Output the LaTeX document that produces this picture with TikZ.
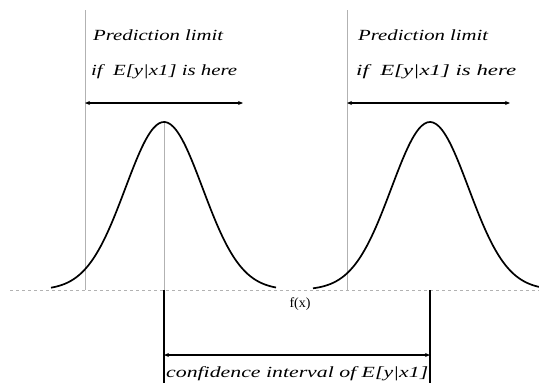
\documentclass[tikz,border=0pt]{standalone}
\usepackage{fontspec}
\setmainfont{Liberation Serif}
\usetikzlibrary{arrows.meta}
\begin{document}
\begin{tikzpicture}[x=1pt,y=-1pt,
  curve/.style={line width=1.7pt, black},
  guide/.style={line width=0.8pt, gray!60},
  axisline/.style={line width=0.8pt, gray!60, dash pattern=on 3pt off 3pt},
  bar/.style={line width=1.5pt, black},
  dim/.style={line width=1.5pt, black, {Stealth[length=5pt,width=4pt]}-{Stealth[length=5pt,width=4pt]}},
  lbl/.style={inner sep=0pt, font=\fontsize{15.5}{17}\selectfont\itshape, anchor=west},
]
\useasboundingbox (0,0) rectangle (539,383);
% coordinates
\coordinate (axL) at (10,290);
\coordinate (axR) at (539,290);
\coordinate (pLtop) at (85,10);
\coordinate (pLbot) at (85,290);
\coordinate (pRtop) at (347,10);
\coordinate (pRbot) at (347,290);
\coordinate (aLs) at (85,103);
\coordinate (aLe) at (243,103);
\coordinate (aRs) at (347,103);
\coordinate (aRe) at (510,103);
\coordinate (peakL) at (164,122);
\coordinate (baseL) at (164,290);
\coordinate (bLbot) at (164,383);
\coordinate (baseR) at (430,290);
\coordinate (bRbot) at (430,383);
\coordinate (cL) at (164,355);
\coordinate (cR) at (430,355);
% axis
\draw[axisline] (axL) -- (axR);
% guide lines
\draw[guide] (pLtop) -- (pLbot);
\draw[guide] (pRtop) -- (pRbot);
\draw[guide] (peakL) -- (baseL);
% curves
\draw[curve] plot[smooth, domain=-113:112, samples=80]
  ({164+\x}, {290-168*exp(-((\x)*(\x))/2980)});
\draw[curve] plot[smooth, domain=-117:109, samples=80]
  ({430+\x}, {290-168*exp(-((\x)*(\x))/2980)});
% arrows
\draw[dim] (aLs) -- (aLe);
\draw[dim] (aRs) -- (aRe);
\draw[bar] (baseL) -- (bLbot);
\draw[bar] (baseR) -- (bRbot);
\draw[dim] (cL) -- (cR);
% labels
\node[lbl] (t1) at (93,35) {\resizebox{130pt}{\height}{Prediction limit}};
\node[lbl] (t2) at (91,72) {\resizebox{146pt}{\height}{if~~E[y|x1] is here}};
\node[lbl] (t3) at (358,35) {\resizebox{130pt}{\height}{Prediction limit}};
\node[lbl] (t4) at (356,72) {\resizebox{160pt}{\height}{if~~E[y|x1] is here}};
\node[inner sep=0pt, font=\fontsize{14}{16}\selectfont] (fx) at (300,304) {f(x)};
\node[lbl] (t5) at (166,374) {\resizebox{262pt}{\height}{confidence interval of E[y|x1]}};
\end{tikzpicture}
\end{document}
